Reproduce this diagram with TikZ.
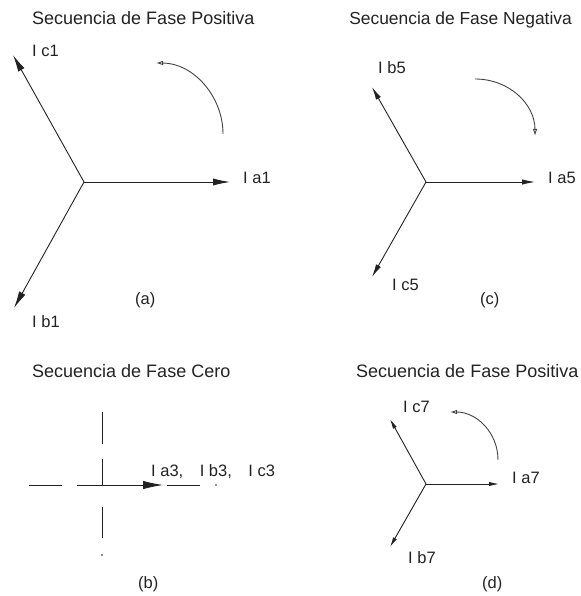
\documentclass[tikz,border=0pt]{standalone}
\usepackage{fontspec}
\setmainfont{Liberation Sans}
\usetikzlibrary{arrows.meta}
\definecolor{ink}{HTML}{222222}
\begin{document}
\begin{tikzpicture}[x=1pt,y=-1pt,
  title/.style={anchor=base west,inner sep=0pt,text=ink,font=\fontsize{18}{21}\selectfont},
  lbl/.style={anchor=base west,inner sep=0pt,text=ink,font=\fontsize{16.5}{19}\selectfont},
  vec/.style={draw=ink,line width=0.9pt,-{Latex[length=#1,width=0.42*#1]}},
  vec/.default=15pt,
  rot/.style={draw=ink!85,line width=0.9pt,-{Latex[length=7pt,width=4.5pt,open]}},
  cl/.style={draw=ink,line width=0.9pt}]
\useasboundingbox (0,0) rectangle (580,596);

% ---------- (a) ----------
\node[title] (ta) at (32,25) {Secuencia de Fase Positiva};
\coordinate (Oa) at (84,182);
\coordinate (Aa) at (230,182);
\coordinate (Ba) at (14,308);
\coordinate (Ca) at (13,55);
\draw[vec=17pt] (Oa) -- (Aa);
\draw[vec=17pt] (Oa) -- (Ba);
\draw[vec=17pt] (Oa) -- (Ca);
\node[lbl] (la) at (243,183) {I a1};
\node[lbl] (lb) at (32,327) {I b1};
\node[lbl] (lc) at (32,57) {I c1};
\node[lbl] (capa) at (135,304) {(a)};
\coordinate (ra1) at (223,134);
\coordinate (ra2) at (156,63);
\draw[rot] (ra1) .. controls (223,96) and (193,63) .. (ra2);

% ---------- (c) ----------
\node[title,anchor=base east,font=\fontsize{17.4}{21}\selectfont] (tc) at (572,25) {Secuencia de Fase Negativa};
\coordinate (Oc) at (426,182);
\coordinate (Ac) at (535,182);
\coordinate (Bc) at (372,87);
\coordinate (Cc) at (372,277);
\draw[vec=13pt] (Oc) -- (Ac);
\draw[vec=13pt] (Oc) -- (Bc);
\draw[vec=13pt] (Oc) -- (Cc);
\node[lbl] (la5) at (548,183) {I a5};
\node[lbl] (lb5) at (378,74) {I b5};
\node[lbl] (lc5) at (392,290) {I c5};
\node[lbl] (capc) at (480,304) {(c)};
\coordinate (rc1) at (475,79);
\coordinate (rc2) at (535,136);
\draw[rot] (rc1) .. controls (509,79) and (535,104) .. (rc2);

% ---------- (b) ----------
\node[title] (tb) at (32,377) {Secuencia de Fase Cero};
\coordinate (Ob) at (102,485);
\coordinate (Ab) at (163,485);
\coordinate (h1) at (29,485);  \coordinate (h2) at (62,485);
\coordinate (h3) at (77,485);
\coordinate (h4) at (167,485); \coordinate (h5) at (200,485);
\coordinate (v1) at (102,412); \coordinate (v2) at (102,444);
\coordinate (v3) at (102,459);
\coordinate (v4) at (102,507); \coordinate (v5) at (102,538);
\draw[cl] (h1) -- (h2) (h3) -- (Ob) (h4) -- (h5);
\draw[cl] (v1) -- (v2) (v3) -- (Ob) (v4) -- (v5);
\fill[ink] (216,485) circle (0.8);
\fill[ink] (102,555) circle (0.8);
\draw[vec=20pt] (Ob) -- (Ab);
\node[lbl] (l3) at (151,476) {I a3,\hspace{1em}I b3,\hspace{1em}I c3};
\node[lbl] (capb) at (138,588) {(b)};

% ---------- (d) ----------
\node[title] (td) at (356,377) {Secuencia de Fase Positiva};
\coordinate (Od) at (426,484);
\coordinate (Ad) at (499,484);
\coordinate (Bd) at (390,547);
\coordinate (Cd) at (390,419);
\draw[vec=10pt] (Od) -- (Ad);
\draw[vec=10pt] (Od) -- (Bd);
\draw[vec=10pt] (Od) -- (Cd);
\node[lbl] (la7) at (512,483) {I a7};
\node[lbl] (lb7) at (408,563) {I b7};
\node[lbl] (lc7) at (403,412) {I c7};
\node[lbl] (capd) at (482,588) {(d)};
\coordinate (rd1) at (498,460);
\coordinate (rd2) at (450,412);
\draw[rot] (rd1) .. controls (498,433) and (477,412) .. (rd2);
\end{tikzpicture}
\end{document}
